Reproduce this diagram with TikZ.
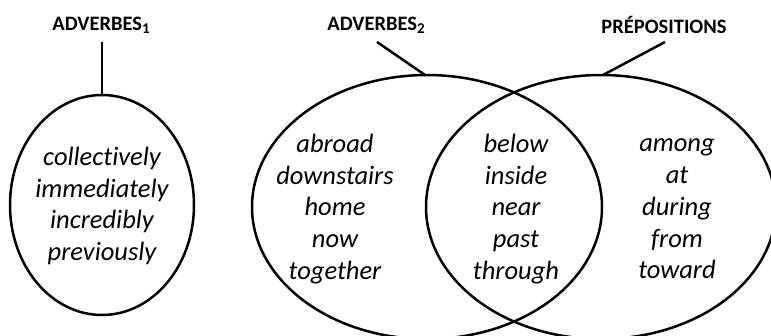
\documentclass[tikz,border=0pt]{standalone}
\usepackage{fontspec}
\setmainfont{Carlito}[Ligatures={NoCommon}]
\newcommand{\mysub}[1]{\raisebox{-0.3ex}{\fontsize{15}{15}\selectfont #1}}
\begin{document}
\begin{tikzpicture}[x=1pt,y=-1pt,
  ring/.style={draw=black,line width=2.5pt},
  stem/.style={draw=black,line width=2.5pt},
  title/.style={font=\fontsize{20.5}{24}\selectfont\bfseries,inner sep=0pt},
  words/.style={font=\fontsize{26.5}{31.8}\selectfont\itshape,align=center,inner sep=0pt}]
\useasboundingbox (0,0) rectangle (771,335);
\clip (0,0) rectangle (771,335);
% ellipses
\draw[ring] (102,205) ellipse [x radius=92,y radius=110];
\draw[ring] (427,207) ellipse [x radius=175,y radius=132];
\draw[ring] (601,207) ellipse [x radius=175,y radius=132];
% anchors on the ellipses
\coordinate (e1top) at (102,95);
\coordinate (e2top) at (425,75);
\coordinate (e3top) at (603,75);
% titles
\node[title] (t1) at (101,25) {ADVERBES\mysub{1}};
\node[title] (t2) at (376,25) {ADVERBES\mysub{2}};
\node[title] (t3) at (664,25) {PRÉPOSITIONS};
\coordinate (s1) at (102,42);
\coordinate (s2) at (377,42);
\coordinate (s3) at (665,42);
\draw[stem] (s1) -- (e1top);
\draw[stem] (s2) -- (e2top);
\draw[stem] (s3) -- (e3top);
% word lists
\node[words] (w1) at (102,206) {collectively\\immediately\\incredibly\\previously};
\node[words] (w2) at (335,209) {abroad\\downstairs\\home\\now\\together};
\node[words] (w3) at (516,209) {below\\inside\\near\\past\\through};
\node[words] (w4) at (677,209) {among\\at\\during\\from\\toward};
\end{tikzpicture}
\end{document}
